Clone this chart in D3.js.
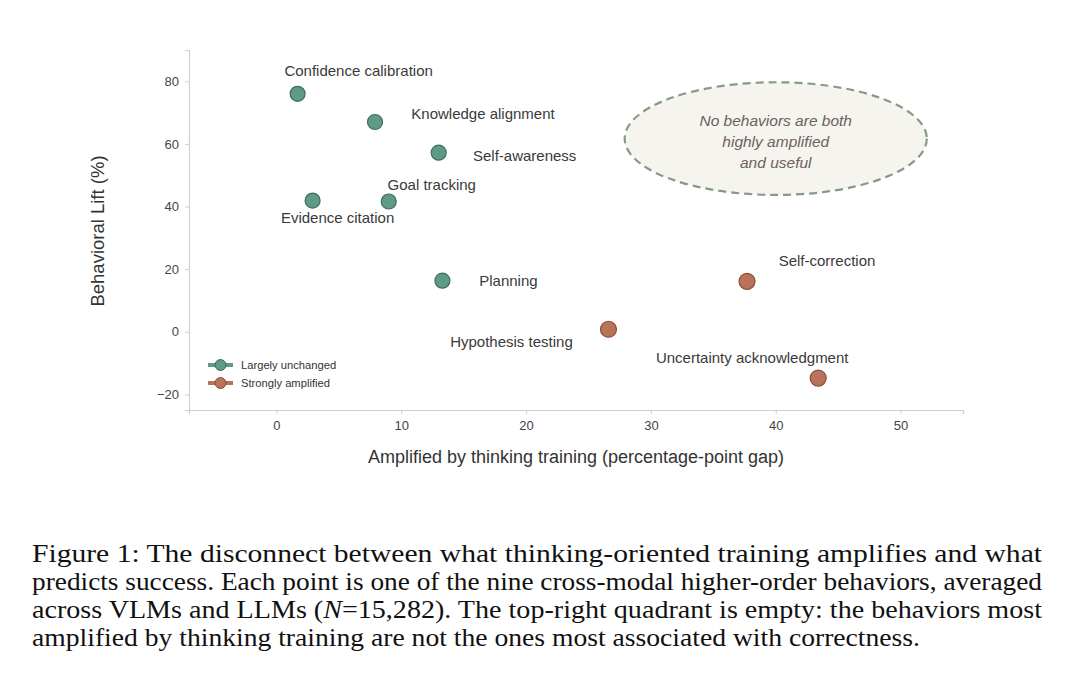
<!DOCTYPE html>
<html><head><meta charset="utf-8">
<script src="https://cdn.jsdelivr.net/npm/d3@7"></script>
<style>body{margin:0;background:#fff;} svg{display:block;}</style>
</head><body>
<svg id="chart" width="1080" height="676"></svg>
<script>
// ---- data ----
const behaviors = ["Confidence calibration","Knowledge alignment","Self-awareness","Goal tracking","Evidence citation","Planning","Hypothesis testing","Self-correction","Uncertainty acknowledgment"];
const amplifiedGap = [1.7, 7.9, 13.0, 9.0, 2.9, 13.3, 26.6, 37.7, 43.4];
const behavioralLift = [76, 67, 57.2, 41.6, 41.9, 16.3, 0.8, 16.1, -14.8];
const groups = ["Largely unchanged","Largely unchanged","Largely unchanged","Largely unchanged","Largely unchanged","Largely unchanged","Strongly amplified","Strongly amplified","Strongly amplified"];
const groupNames = ["Largely unchanged","Strongly amplified"];
const xTicks = [0,10,20,30,40,50];
const yTicks = [-20,0,20,40,60,80];
const xDomain = [-7,55];
const yDomain = [-25,90];
const annotationLines = ["No behaviors are both","highly amplified","and useful"];
const annotationCenter = [40, 61.7];
const annotationRadius = [12.1, 18];
const captionLines = [
  "Figure 1: The disconnect between what thinking-oriented training amplifies and what",
  "predicts success. Each point is one of the nine cross-modal higher-order behaviors, averaged",
  "across VLMs and LLMs (N=15,282). The top-right quadrant is empty: the behaviors most",
  "amplified by thinking training are not the ones most associated with correctness."
];
// label placement (pixel offsets from each point)
const labelDx = [61,108,86,43,25,66,-97,80,-66];
const labelDy = [-18,-3,8,-12,22,5,18,-15,-15];

// ---- styles ----
const fillColor = {"Largely unchanged":"#5e9a85","Strongly amplified":"#b9735a"};
const strokeColor = {"Largely unchanged":"#3f6e5e","Strongly amplified":"#8a4f3a"};
const radius = {"Largely unchanged":7.5,"Strongly amplified":8};
const sans = "'Liberation Sans', Arial, Helvetica, sans-serif";

const svg = d3.select("#chart");
const x = d3.scaleLinear().domain(xDomain).range([189,963]);
const y = d3.scaleLinear().domain(yDomain).range([410,50]);

// annotation ellipse
const ann = svg.append("g");
const acy = y(annotationCenter[1]);
ann.append("ellipse")
  .attr("cx", x(annotationCenter[0])).attr("cy", acy)
  .attr("rx", x(annotationRadius[0]) - x(0)).attr("ry", y(0) - y(annotationRadius[1]))
  .attr("fill","#f6f4ef").attr("stroke","#869a88").attr("stroke-width",2.2)
  .attr("stroke-dasharray","8,5");
ann.selectAll("text").data(annotationLines).join("text")
  .attr("x", x(annotationCenter[0]))
  .attr("y",(d,i)=> acy - 13 + i*21)
  .attr("text-anchor","middle").attr("font-family",sans).attr("font-style","italic")
  .attr("font-size",15.5).attr("fill","#6e5f5c").text(d=>d);

// axes
const xAxis = svg.append("g").attr("transform","translate(0,410)")
  .call(d3.axisBottom(x).tickValues(xTicks).tickSize(4).tickPadding(7).tickFormat(d3.format("d")));
const yAxis = svg.append("g").attr("transform","translate(189,0)")
  .call(d3.axisLeft(y).tickValues(yTicks).tickSize(4).tickPadding(6).tickFormat(d=> d<0 ? "\u2212"+Math.abs(d) : d));
[xAxis,yAxis].forEach(a=>{
  a.select(".domain").attr("stroke","#cfcfcf").attr("stroke-width",1.2);
  a.selectAll(".tick line").attr("stroke","#cfcfcf");
  a.selectAll(".tick text").attr("font-family",sans).attr("font-size",13).attr("fill","#444");
});

svg.append("text").attr("x",576).attr("y",463).attr("text-anchor","middle")
  .attr("font-family",sans).attr("font-size",18).attr("fill","#333")
  .text("Amplified by thinking training (percentage-point gap)");
svg.append("text").attr("transform","translate(104,231) rotate(-90)").attr("text-anchor","middle")
  .attr("font-family",sans).attr("font-size",18.5).attr("fill","#333")
  .text("Behavioral Lift (%)");

// points
const pts = behaviors.map((b,i)=>({name:b,x:amplifiedGap[i],y:behavioralLift[i],g:groups[i],dx:labelDx[i],dy:labelDy[i]}));
svg.append("g").selectAll("circle").data(pts).join("circle")
  .attr("cx",d=>x(d.x)).attr("cy",d=>y(d.y)).attr("r",d=>radius[d.g])
  .attr("fill",d=>fillColor[d.g]).attr("stroke",d=>strokeColor[d.g]).attr("stroke-width",1.2);
svg.append("g").selectAll("text").data(pts).join("text")
  .attr("x",d=>x(d.x)+d.dx).attr("y",d=>y(d.y)+d.dy).attr("text-anchor","middle")
  .attr("font-family",sans).attr("font-size",15).attr("fill","#3a3a3a").text(d=>d.name);

// legend
const leg = svg.append("g").selectAll("g").data(groupNames).join("g")
  .attr("transform",(d,i)=>`translate(208,${365+i*18})`);
leg.append("line").attr("x1",0).attr("x2",25).attr("y1",0).attr("y2",0)
  .attr("stroke",d=>fillColor[d]).attr("stroke-width",4);
leg.append("circle").attr("cx",12.5).attr("cy",0).attr("r",5.5)
  .attr("fill",d=>fillColor[d]).attr("stroke",d=>strokeColor[d]).attr("stroke-width",1);
leg.append("text").attr("x",33).attr("y",4).attr("font-family",sans).attr("font-size",11.2)
  .attr("fill","#333").text(d=>d);

// caption
const capLengths = [1010,1010,1010,888];
const cap = svg.append("g");
captionLines.forEach((line,i)=>{
  const t = cap.append("text").attr("x",32).attr("y",562+i*28)
    .attr("font-family","'Liberation Serif','Times New Roman',serif").attr("font-size",25).attr("fill","#111")
    .attr("textLength",capLengths[i]).attr("lengthAdjust","spacingAndGlyphs");
  if(line.includes("(N=")){
    const parts = line.split("N=");
    t.append("tspan").text(parts[0]);
    t.append("tspan").attr("font-style","italic").text("N");
    t.append("tspan").text("="+parts[1]);
  } else t.text(line);
});
</script>
</body></html>
